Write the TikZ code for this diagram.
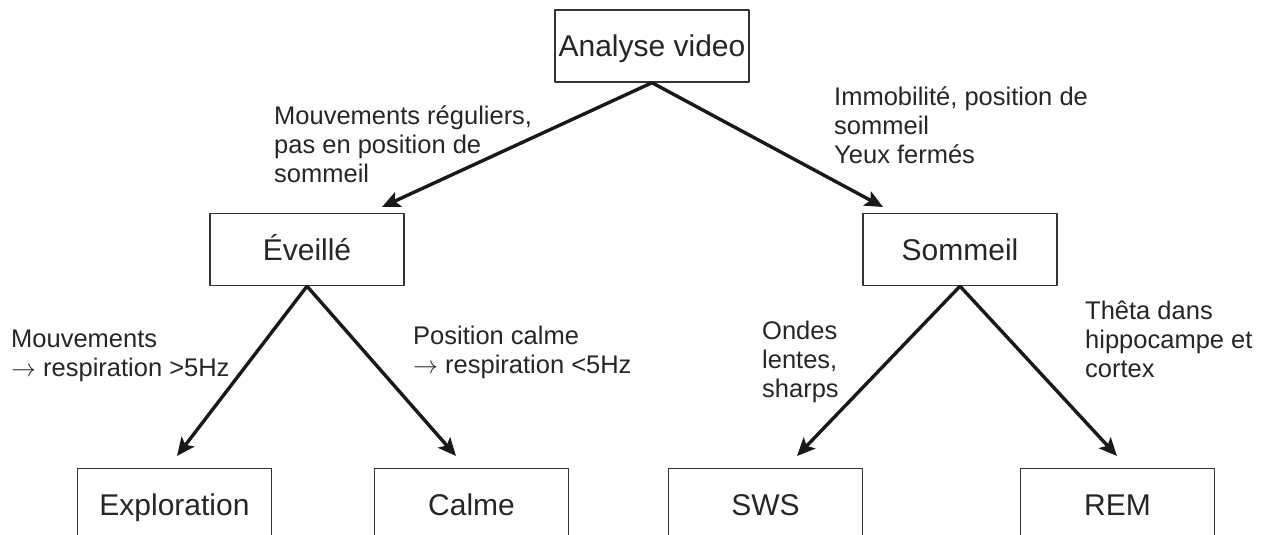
\documentclass[tikz,border=0pt]{standalone}
\usepackage{fontspec}
\setmainfont{Liberation Sans}
\usetikzlibrary{arrows.meta}

\tikzset{
	boite/.style={draw=black!80, line width=1.4pt, minimum width=194pt, minimum height=72pt, inner sep=0pt, text height=25pt, text depth=4pt, text=black!85, font=\fontsize{30}{36}\selectfont},
	critere/.style={anchor=base west, align=left, inner sep=0pt, text=black!85, font=\fontsize{25.5}{29}\selectfont},
	fleche/.style={line width=3.4pt, draw=black!90, -{Stealth[length=18pt,width=16pt,inset=4pt]}},
}

\begin{document}
\begin{tikzpicture}[x=1pt, y=-1pt, line join=round]
		\def\W{1263} \def\H{535} % taille
		\useasboundingbox (0,0) rectangle (\W,\H);
		\clip (0,0) rectangle (\W,\H);
		% boites
		\node[boite] (analyse) at (652,46) {Analyse video};
		\node[boite] (eveille) at (307,249.5) {Éveillé};
		\node[boite] (sommeil) at (960,249.5) {Sommeil};
		\node[boite] (explo) at (174.5,504.5) {Exploration};
		\node[boite] (calme) at (471.5,504.5) {Calme};
		\node[boite] (sws) at (765.5,504.5) {SWS};
		\node[boite] (rem) at (1117.5,504.5) {REM};
		% pointes des fleches
		\coordinate (pEveille) at (382,207);
		\coordinate (pSommeil) at (883,207);
		\coordinate (pExplo) at (177,456);
		\coordinate (pCalme) at (456,456);
		\coordinate (pSws) at (797,456);
		\coordinate (pRem) at (1117,456);
		\draw[fleche] (analyse.south) -- (pEveille);
		\draw[fleche] (analyse.south) -- (pSommeil);
		\draw[fleche] (eveille.south) -- (pExplo);
		\draw[fleche] (eveille.south) -- (pCalme);
		\draw[fleche] (sommeil.south) -- (pSws);
		\draw[fleche] (sommeil.south) -- (pRem);
		% criteres (ancre sur la derniere ligne)
		\node[critere] (cMouvReg) at (274,182) {Mouvements réguliers,\\pas en position de\\sommeil};
		\node[critere] (cImmob) at (834,163) {Immobilité, position de\\sommeil\\Yeux fermés};
		\node[critere] (cMouv) at (11,376) {Mouvements\\$\rightarrow$ respiration >5Hz};
		\node[critere] (cPosCalme) at (413,373) {Position calme\\$\rightarrow$ respiration <5Hz};
		\node[critere] (cOndes) at (762,397) {Ondes\\lentes,\\sharps};
		\node[critere] (cTheta) at (1085,377) {Thêta dans\\hippocampe et\\cortex};
\end{tikzpicture}
\end{document}
